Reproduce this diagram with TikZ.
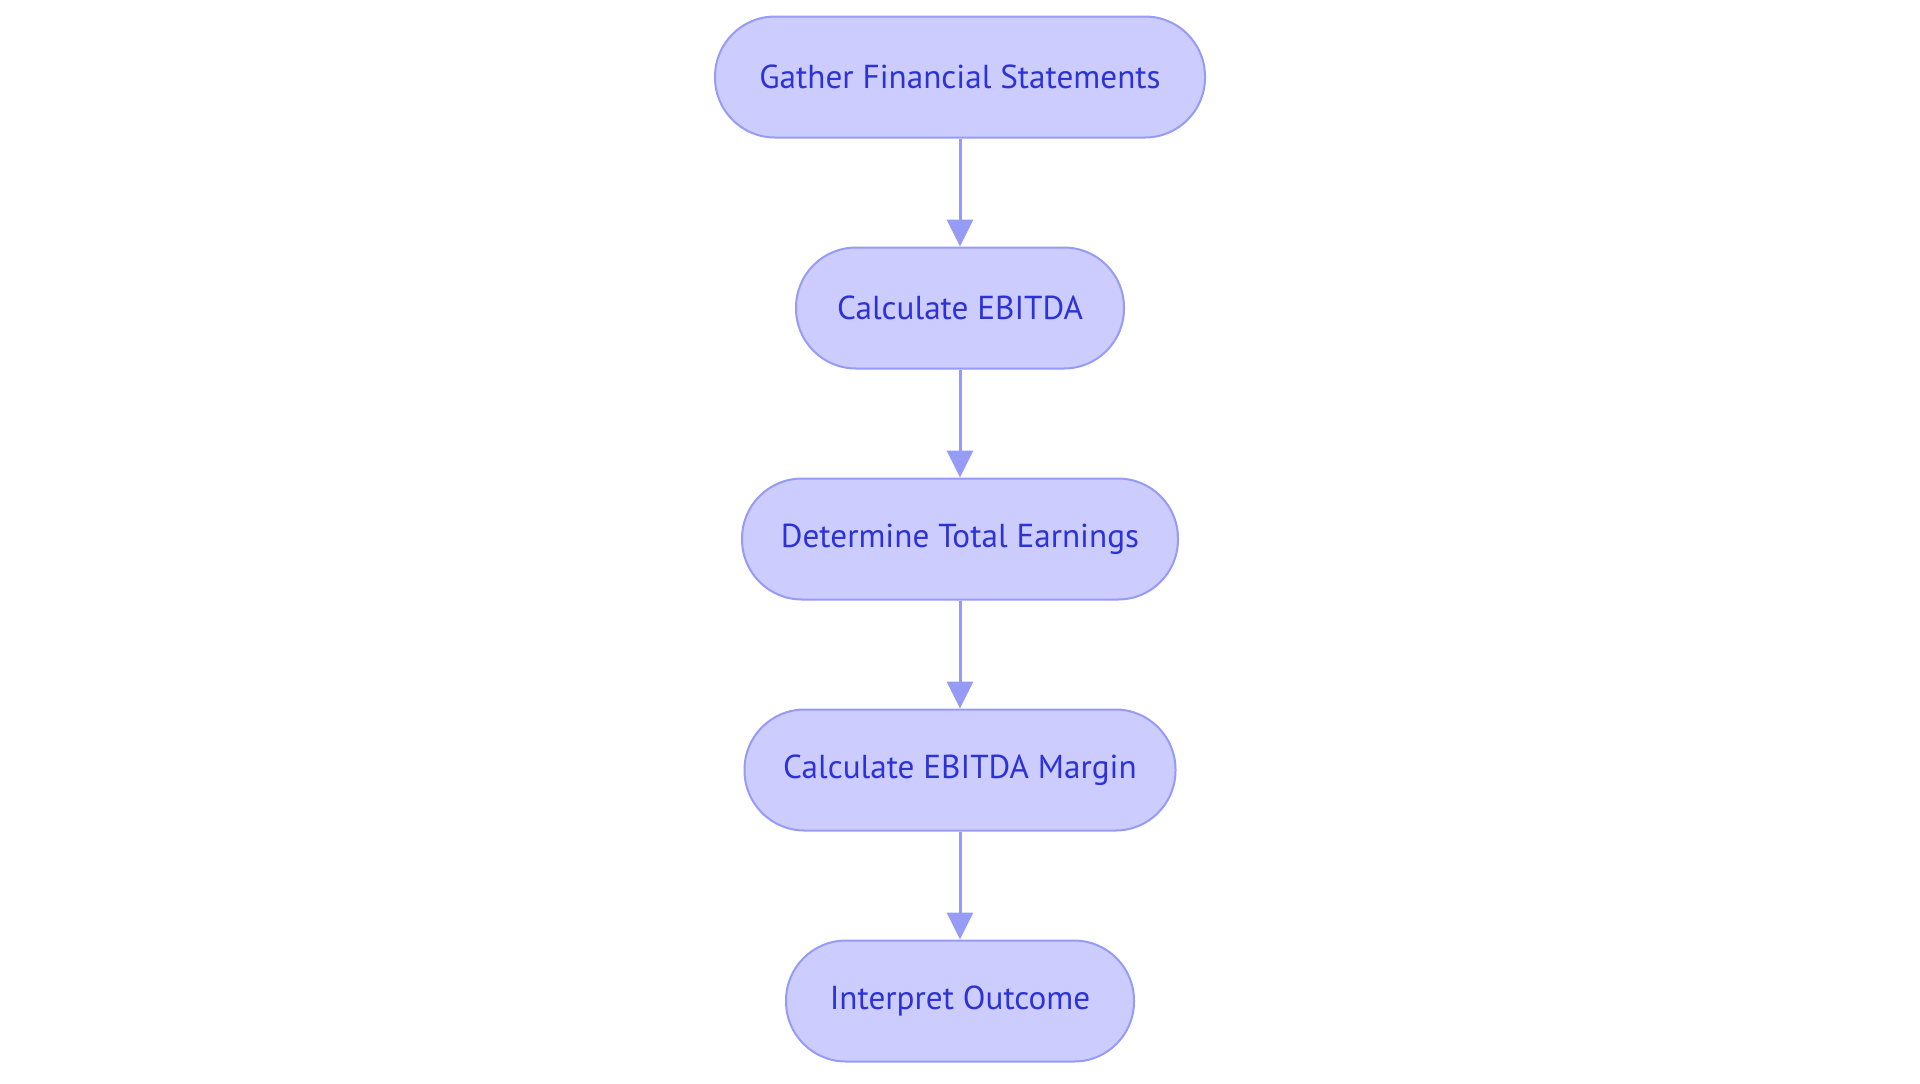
\documentclass[tikz,border=0pt]{standalone}
\usepackage{fontspec}
\setmainfont{PT Sans}
\usepackage{xcolor}
\usepackage{tikz}
\usetikzlibrary{positioning,arrows.meta}

\definecolor{stepfill}{RGB}{204,204,255}
\definecolor{stepline}{RGB}{150,155,245}
\definecolor{steptext}{RGB}{44,50,214}

\tikzset{
  stepbox/.style={draw=stepline,fill=stepfill,line width=1pt,rounded corners=30pt,
    minimum height=60.5pt,text=steptext,font=\fontsize{16.6}{19}\selectfont},
  flow/.style={draw=stepline,line width=1.5pt,-{Triangle[length=13.5pt,width=13pt]}}
}

\begin{document}
\begin{tikzpicture}[node distance=54pt]
\useasboundingbox (0pt,0pt) rectangle (960pt,-541.5pt);
\node[stepbox,minimum width=245pt] (gather) at (480pt,-38.5pt) {Gather Financial Statements};
\node[stepbox,minimum width=164pt,below=of gather] (ebitda) {Calculate EBITDA};
\node[stepbox,minimum width=218pt,below=of ebitda] (earnings) {Determine Total Earnings};
\node[stepbox,minimum width=215.5pt,below=of earnings] (margin) {Calculate EBITDA Margin};
\node[stepbox,minimum width=174pt,below=of margin] (outcome) {Interpret Outcome};
\draw[flow] (gather) -- (ebitda);
\draw[flow] (ebitda) -- (earnings);
\draw[flow] (earnings) -- (margin);
\draw[flow] (margin) -- (outcome);
\end{tikzpicture}
\end{document}
